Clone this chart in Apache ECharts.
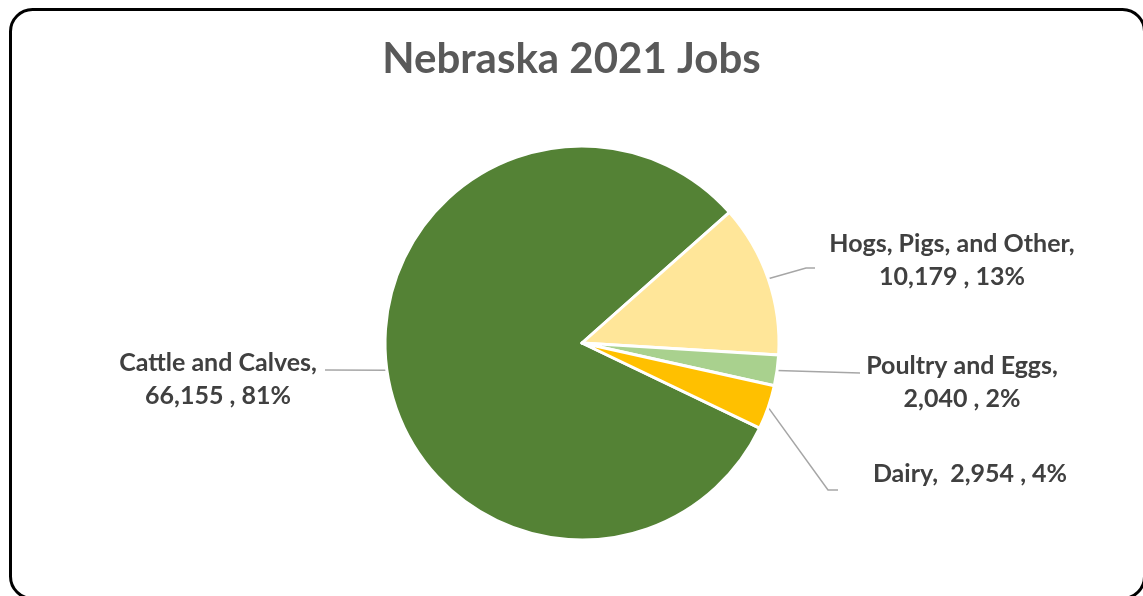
<!DOCTYPE html>
<html><head><meta charset="utf-8">
<script src="https://cdn.jsdelivr.net/npm/echarts@6/dist/echarts.min.js"></script>
<style>html,body{margin:0;padding:0;background:#fff;}#c{width:1143px;height:596px;}</style>
</head><body><div id="c"></div>
<script>
const categories = ["Cattle and Calves", "Hogs, Pigs, and Other", "Poultry and Eggs", "Dairy"];
const jobs = [66155, 10179, 2040, 2954];
const colors = ["#548235", "#FFE699", "#A9D18E", "#FFC000"];
// label block centres (layout only)
const labelPos = [[218, 379], [952, 260], [962, 382], [970, 474]];
// leader line bend / end points (layout only)
const leaderBend = [null, [806, 268], null, [828, 490]];
const leaderEnd = [[325, 370], [815, 268], [860, 373], [838, 490]];

const chart = echarts.init(document.getElementById('c'), null, {renderer: 'canvas'});
const fmt = n => n.toLocaleString('en-US');
chart.setOption({
  animation: false,
  backgroundColor: '#fff',
  title: {
    text: 'Nebraska 2021 Jobs', left: 'center', top: 33,
    textStyle: {fontFamily: 'Lato', fontWeight: 'bold', fontSize: 42, color: '#595959'}
  },
  graphic: [{
    type: 'rect', left: 8, top: 7, z: 100,
    shape: {width: 1134, height: 589, r: 22},
    style: {fill: 'none', stroke: '#000', lineWidth: 3}
  }],
  series: [{
    type: 'pie',
    center: [582, 343],
    radius: ['0%', 197],
    startAngle: -25.6,
    clockwise: true,
    percentPrecision: 0,
    data: categories.map((c, i) => ({name: c, value: jobs[i], itemStyle: {color: colors[i]}})),
    itemStyle: {borderColor: '#fff', borderWidth: 3},
    label: {
      show: true,
      fontFamily: 'Lato', fontWeight: 'bold', fontSize: 25, color: '#404040',
      lineHeight: 33, align: 'center',
      formatter: p => p.dataIndex === 3
        ? p.name + ',  ' + fmt(p.value) + ' , ' + p.percent + '%'
        : p.name + ',\n' + fmt(p.value) + ' , ' + p.percent + '%'
    },
    labelLine: {show: true, lineStyle: {color: '#A6A6A6', width: 1.5}},
    labelLayout: p => {
      const i = p.dataIndex;
      const start = (p.labelLinePoints && p.labelLinePoints[0]) || leaderEnd[i];
      const pts = [start];
      if (leaderBend[i]) pts.push(leaderBend[i]); else pts.push(leaderEnd[i]);
      pts.push(leaderEnd[i]);
      return {x: labelPos[i][0], y: labelPos[i][1], align: 'center', verticalAlign: 'middle', labelLinePoints: pts};
    }
  }]
});
</script></body></html>
